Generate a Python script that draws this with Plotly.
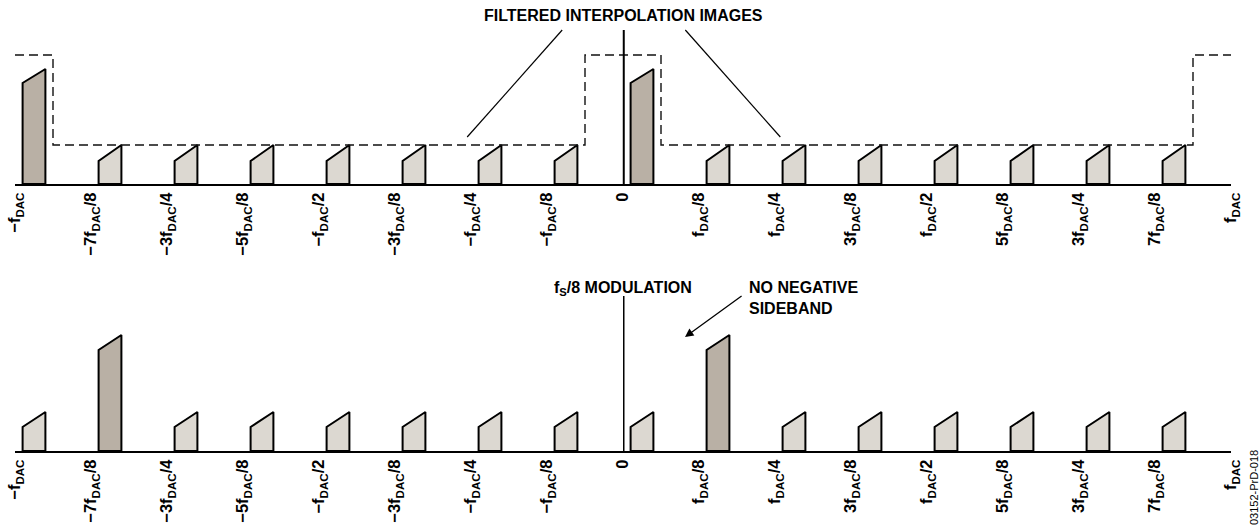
"""fS/8 modulation spectra: filtered interpolation images vs. modulated images."""
import plotly.graph_objects as go

# frequency positions in units of fDAC/8
freqs = [-8, -7, -6, -5, -4, -3, -2, -1, 0, 1, 2, 3, 4, 5, 6, 7]
tick_vals = [-8, -7, -6, -5, -4, -3, -2, -1, 0, 1, 2, 3, 4, 5, 6, 7, 8]
tick_text = ["−f<sub>DAC</sub>", "−7f<sub>DAC</sub>/8", "−3f<sub>DAC</sub>/4", "−5f<sub>DAC</sub>/8",
             "−f<sub>DAC</sub>/2", "−3f<sub>DAC</sub>/8", "−f<sub>DAC</sub>/4", "−f<sub>DAC</sub>/8",
             "0", "f<sub>DAC</sub>/8", "f<sub>DAC</sub>/4", "3f<sub>DAC</sub>/8", "f<sub>DAC</sub>/2",
             "5f<sub>DAC</sub>/8", "3f<sub>DAC</sub>/4", "7f<sub>DAC</sub>/8", "f<sub>DAC</sub>"]

# image amplitude at lower / upper band edge
top_lo = [101, 23, 23, 23, 23, 23, 23, 23, 101, 23, 23, 23, 23, 23, 23, 23]
top_hi = [115, 39, 39, 39, 39, 39, 39, 39, 115, 39, 39, 39, 39, 39, 39, 39]
bot_lo = [24, 101, 24, 24, 24, 24, 24, 24, 24, 101, 24, 24, 24, 24, 24, 24]
bot_hi = [39, 116, 39, 39, 39, 39, 39, 39, 39, 116, 39, 39, 39, 39, 39, 39]

# interpolation filter response (dashed)
filt_x = [-8, -7.5, -7.5, -0.5, -0.5, 0.5, 0.5, 7.5, 7.5, 8]
filt_y = [129, 129, 39, 39, 129, 129, 39, 39, 129, 129]

# leader lines for the top callout
lead_left = ([-0.8, -2.05], [154, 47])
lead_right = ([0.82, 2.07], [154, 47])

BIG = "#B9B0A5"
SMALL = "#DCD8D1"
OFF = 0.1     # band start offset from tick
W = 0.3       # band width
FONT = "Liberation Sans, Arial, sans-serif"

fig = go.Figure()


def add_images(lo, hi, xa, ya):
    for f, a, b in zip(freqs, lo, hi):
        x0 = f + OFF
        fig.add_trace(go.Scatter(
            x=[x0, x0, x0 + W, x0 + W, x0], y=[0, a, b, 0, 0],
            mode="lines", fill="toself",
            fillcolor=BIG if a > 60 else SMALL,
            line=dict(color="black", width=2),
            xaxis=xa, yaxis=ya, showlegend=False, hoverinfo="skip"))


add_images(top_lo, top_hi, "x", "y")
add_images(bot_lo, bot_hi, "x2", "y2")

fig.add_trace(go.Scatter(x=filt_x, y=filt_y, mode="lines",
                         line=dict(color="#111", width=1.4, dash="9px,5px"),
                         xaxis="x", yaxis="y", showlegend=False, hoverinfo="skip"))
for lx, ly in (lead_left, lead_right):
    fig.add_trace(go.Scatter(x=lx, y=ly, mode="lines", line=dict(color="black", width=1.2),
                             xaxis="x", yaxis="y", showlegend=False, hoverinfo="skip"))
# zero-frequency markers
fig.add_trace(go.Scatter(x=[0.01, 0.01], y=[0, 154], mode="lines", line=dict(color="black", width=2),
                         xaxis="x", yaxis="y", showlegend=False, hoverinfo="skip"))
fig.add_trace(go.Scatter(x=[0.01, 0.01], y=[0, 155], mode="lines", line=dict(color="black", width=1.5),
                         xaxis="x2", yaxis="y2", showlegend=False, hoverinfo="skip"))

xcommon = dict(range=[-8, 8], showgrid=False, zeroline=False, showline=True,
               linecolor="black", linewidth=2, tickmode="array", tickvals=tick_vals,
               ticktext=tick_text, tickangle=-90, ticks="", automargin=False,
               tickfont=dict(family=FONT, size=16.5, color="black", weight="bold"),
               domain=[15 / 1260, 1231 / 1260])
ycommon = dict(range=[0, 175], visible=False, showgrid=False, zeroline=False, automargin=False)

fig.update_layout(
    width=1260, height=525, margin=dict(l=0, r=0, t=0, b=0, autoexpand=False),
    paper_bgcolor="white", plot_bgcolor="white",
    xaxis=dict(**xcommon, anchor="y"),
    yaxis=dict(**ycommon, domain=[1 - 184 / 525, 1 - 9 / 525]),
    xaxis2=dict(**xcommon, anchor="y2"),
    yaxis2=dict(**ycommon, domain=[1 - 451 / 525, 1 - 276 / 525]),
)

bold = dict(family=FONT, size=16, color="black", weight="bold")
fig.add_annotation(x=0, y=168, xref="x", yref="y", text="FILTERED INTERPOLATION IMAGES",
                   showarrow=False, font=bold)
fig.add_annotation(x=0, y=163, xref="x2", yref="y2", text="f<sub>S</sub>/8 MODULATION",
                   showarrow=False, font=bold)
fig.add_annotation(x=1.63, y=153, xref="x2", yref="y2", text="NO NEGATIVE<br>SIDEBAND",
                   showarrow=False, font=bold, xanchor="left", align="left")
fig.add_annotation(x=0.816, y=114, xref="x2", yref="y2", ax=1.58, ay=156,
                   axref="x2", ayref="y2", text="", showarrow=True,
                   arrowhead=2, arrowsize=1.3, arrowwidth=1.3, arrowcolor="black")
fig.add_annotation(x=1254 / 1260, y=1 - 488 / 525, xref="paper", yref="paper",
                   xanchor="center", yanchor="middle",
                   text="03152-PrD-018", showarrow=False, textangle=-90,
                   font=dict(family=FONT, size=11, color="black"))

fig.write_html("out.html", config={"displayModeBar": False},
               post_script="document.body.style.margin='0px';")
